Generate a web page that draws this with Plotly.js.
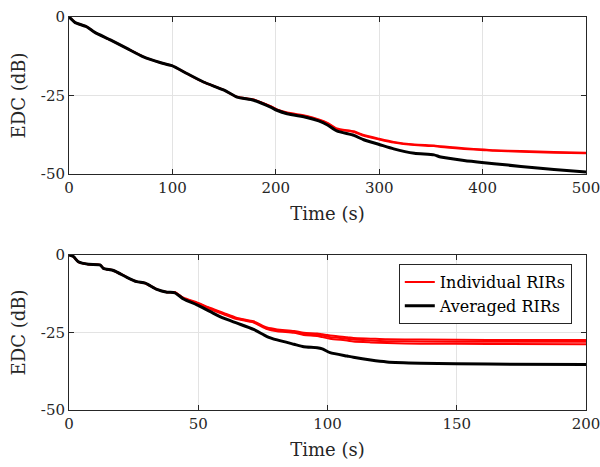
<!DOCTYPE html>
<html>
<head>
<meta charset="utf-8">
<script src="https://cdn.plot.ly/plotly-3.0.1.min.js"></script>
<style>html,body{margin:0;padding:0;background:#fff}#chart{width:600px;height:467px}</style>
</head>
<body>
<div id="chart"></div>
<script>
// ---------- Top panel (0-500 s) ----------
const topTime = [0, 2, 6, 17, 25, 40, 56, 72, 88, 99.5, 114, 130, 150, 162.5, 178.6, 195, 201, 211, 230, 241.5, 250, 259, 275.5, 285, 300, 314, 334, 353, 359.5, 382, 401.5, 411, 437, 469, 500];
const topAveraged = [0, -0.6, -1.8, -3.1, -4.9, -7.3, -10, -12.7, -14.5, -15.5, -18, -20.7, -23.3, -25.5, -26.5, -28.7, -29.7, -30.8, -32, -33.1, -34.4, -36.3, -37.7, -39.1, -40.6, -42, -43.4, -43.9, -44.6, -45.7, -46.4, -46.7, -47.6, -48.6, -49.4];
const topIndividual1 = [0, -0.6, -1.8, -3.1, -4.9, -7.3, -10, -12.7, -14.5, -15.5, -18, -20.7, -23.3, -25.4, -26.3, -28.4, -29.4, -30.4, -31.5, -32.6, -33.7, -35.5, -36.4, -37.6, -38.8, -39.8, -40.6, -40.9, -41.2, -41.8, -42.2, -42.4, -42.7, -43.0, -43.2];
const topIndividual2 = [0, -0.6, -1.8, -3.1, -4.9, -7.3, -10, -12.7, -14.5, -15.5, -18, -20.7, -23.3, -25.5, -26.4, -28.5, -29.5, -30.6, -31.7, -32.8, -33.9, -35.7, -36.6, -37.8, -39.0, -40.0, -40.8, -41.1, -41.4, -42.0, -42.4, -42.6, -42.9, -43.2, -43.4];

// ---------- Bottom panel (0-200 s) ----------
const botTime = [0, 1.7, 3.6, 7.5, 12, 13.3, 17.2, 22.4, 26.2, 29.5, 34, 37.9, 41, 44.3, 49.5, 54.7, 59.8, 65, 71.4, 76.6, 80.5, 87, 90.8, 96, 98, 101, 107.6, 110, 116.7, 123, 136, 162, 200];
const botAveraged = [0, -0.5, -2.2, -3, -3.2, -4.3, -5, -7.2, -8.6, -9.1, -11.1, -12, -12.2, -14.2, -16.1, -18.3, -20.4, -22, -24, -26.3, -27.4, -28.8, -29.6, -29.9, -30.3, -31.5, -32.6, -33, -33.9, -34.5, -34.9, -35.2, -35.3];
const botIndividual1 = [0, -0.5, -2.2, -3, -3.2, -4.3, -5, -7.2, -8.6, -9.1, -11.1, -11.9, -12.0, -13.8, -15.3, -17.1, -18.7, -20.3, -21.4, -23.4, -24.0, -24.5, -25.1, -25.3, -25.6, -26.0, -26.5, -26.8, -27.0, -27.2, -27.3, -27.4, -27.4];
const botIndividual2 = [0, -0.5, -2.2, -3, -3.2, -4.3, -5, -7.2, -8.6, -9.1, -11.1, -12.0, -12.1, -14.0, -15.5, -17.3, -18.9, -20.5, -21.6, -23.7, -24.3, -24.8, -25.5, -25.7, -26.0, -26.5, -27.0, -27.3, -27.6, -27.8, -27.9, -28.0, -28.0];
const botIndividual3 = [0, -0.5, -2.2, -3, -3.2, -4.3, -5, -7.2, -8.6, -9.1, -11.1, -12.0, -12.2, -14.1, -15.7, -17.5, -19.1, -20.7, -21.8, -23.9, -24.6, -25.1, -25.8, -26.1, -26.5, -27.0, -27.6, -27.9, -28.2, -28.4, -28.6, -28.7, -28.8];

const xTopTicks = [0, 100, 200, 300, 400, 500];
const xBotTicks = [0, 50, 100, 150, 200];
const yTicks = [0, -25, -50];
const yTickText = ['0', '-25', '-50'];

const legendIndividual = 'Individual RIRs';
const legendAveraged = 'Averaged RIRs';
const xLabel = 'Time (s)';
const yLabel = 'EDC (dB)';

const RED = '#ff0000', BLACK = '#000000';
const FONT = 'DejaVu Serif';

function redLine(x, y, axis, show) {
  return {x, y, xaxis: 'x' + axis, yaxis: 'y' + axis, type: 'scatter', mode: 'lines',
    line: {color: RED, width: 2, shape: 'spline', smoothing: 0.6}, name: legendIndividual, showlegend: show, legendgroup: 'ind'};
}
function blackLine(x, y, axis, show) {
  return {x, y, xaxis: 'x' + axis, yaxis: 'y' + axis, type: 'scatter', mode: 'lines',
    line: {color: BLACK, width: 3, shape: 'spline', smoothing: 0.6}, name: legendAveraged, showlegend: show, legendgroup: 'avg'};
}

const traces = [
  redLine(botTime, botIndividual1, '2', true),
  redLine(botTime, botIndividual2, '2', false),
  redLine(botTime, botIndividual3, '2', false),
  blackLine(botTime, botAveraged, '2', true),
  redLine(topTime, topIndividual1, '', false),
  redLine(topTime, topIndividual2, '', false),
  blackLine(topTime, topAveraged, '', false)
];

function xax(range, ticks, dom, anchor) {
  return {range, tickvals: ticks, ticktext: ticks.map(String), domain: dom, anchor,
    showline: true, linecolor: '#262626', linewidth: 1, mirror: 'ticks',
    ticks: 'inside', ticklen: 5, tickcolor: '#262626',
    showgrid: true, gridcolor: '#e3e3e3', gridwidth: 1, zeroline: false,
    ticklabeloverflow: 'allow',
    tickfont: {family: FONT, size: 15, color: '#262626'},
    title: {text: xLabel, font: {family: FONT, size: 18, color: '#262626'}, standoff: 11},
    automargin: false, fixedrange: true};
}
function yax(dom, anchor) {
  return {range: [-50, 0], tickvals: yTicks, ticktext: yTickText, domain: dom, anchor,
    showline: true, linecolor: '#262626', linewidth: 1, mirror: 'ticks',
    ticks: 'inside', ticklen: 5, tickcolor: '#262626',
    showgrid: true, gridcolor: '#e3e3e3', gridwidth: 1, zeroline: false,
    ticklabeloverflow: 'allow',
    tickfont: {family: FONT, size: 15, color: '#262626'},
    title: {text: yLabel, font: {family: FONT, size: 18, color: '#262626'}, standoff: 10},
    automargin: false, fixedrange: true};
}

const layout = {
  width: 600, height: 467,
  margin: {l: 0, r: 0, t: 0, b: 0},
  paper_bgcolor: '#ffffff', plot_bgcolor: '#ffffff',
  font: {family: FONT, size: 15},
  xaxis: xax([0, 500], xTopTicks, [0.115, 0.9767], 'y'),
  yaxis: yax([0.6274, 0.9636], 'x'),
  xaxis2: xax([0, 200], xBotTicks, [0.115, 0.9767], 'y2'),
  yaxis2: yax([0.1221, 0.454], 'x2'),
  showlegend: true,
  legend: {x: 0.953, y: 0.4347, xanchor: 'right', yanchor: 'top',
    bgcolor: '#ffffff', bordercolor: '#262626', borderwidth: 1,
    font: {family: FONT, size: 16, color: '#000000'}, traceorder: 'normal',
    tracegroupgap: 0}
};

Plotly.newPlot('chart', traces, layout, {staticPlot: true, displayModeBar: false});
</script>
</body>
</html>
